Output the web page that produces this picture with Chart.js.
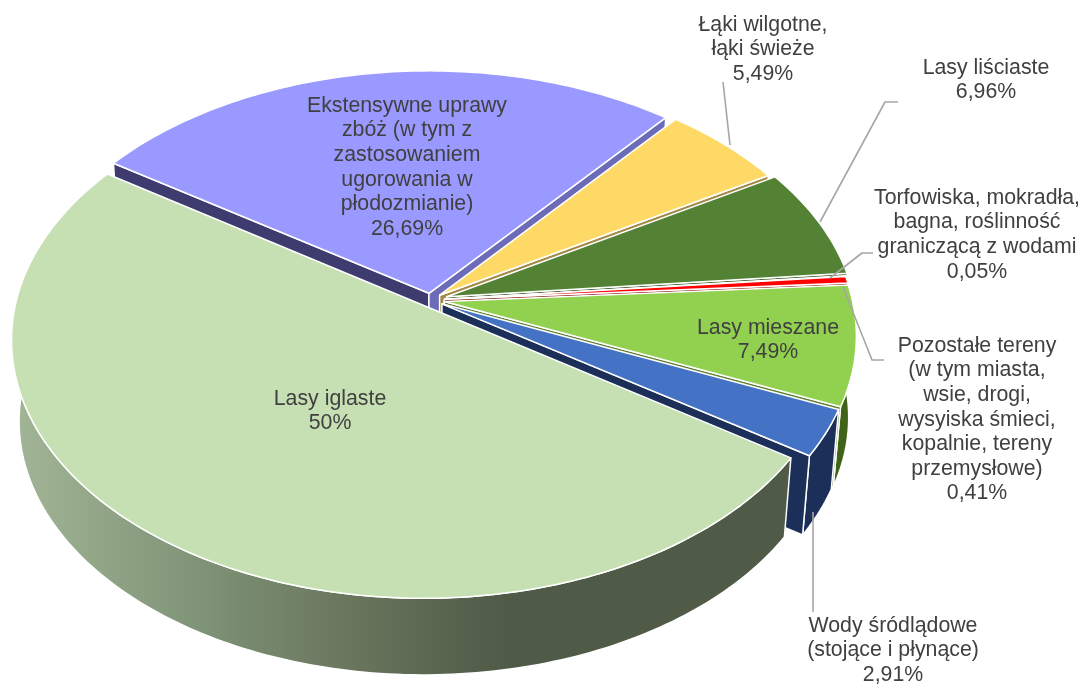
<!DOCTYPE html>
<html lang="pl">
<head>
<meta charset="utf-8">
<style>
  html, body { margin: 0; padding: 0; background: #fff; }
  #wrap { width: 1083px; height: 684px; }
</style>
</head>
<body>
<div id="wrap"><canvas id="grafica" width="1083" height="684"></canvas></div>
<script src="https://cdn.jsdelivr.net/npm/chart.js@4/dist/chart.umd.min.js"></script>
<script>
const etykiety = [
    ['Lasy iglaste'],
    ['Ekstensywne uprawy', 'zbóż (w tym z', 'zastosowaniem', 'ugorowania w', 'płodozmianie)'],
    ['Łąki wilgotne,', 'łąki świeże'],
    ['Lasy liściaste'],
    ['Torfowiska, mokradła,', 'bagna, roślinność', 'graniczącą z wodami'],
    ['Pozostałe tereny', '(w tym miasta,', 'wsie, drogi,', 'wysyiska śmieci,', 'kopalnie, tereny', 'przemysłowe)'],
    ['Lasy mieszane'],
    ['Wody śródlądowe', '(stojące i płynące)']
];
const wartosci = [50, 26.69, 5.49, 6.96, 0.05, 0.41, 7.49, 2.91];

// style
const kolory = ['#c6e0b4', '#9999ff', '#ffd966', '#548235', '#a5a5a5', '#ff0000', '#92d050', '#4472c4'];
const scianyPoczatek = ['#4f5a47', '#3e3b6e', '#a38b47', '#3c5d26', '#666666', '#800000', '#5f7f33', '#1b2f58'];
const scianyKoniec = ['#4f5a47', '#6b6bb8', '#a38b47', '#3c5d26', '#666666', '#800000', '#5f7f33', '#1b2f58'];
const scianyBok = ['#4f5a47', '#5c5c99', '#997f3d', '#2f4a1f', '#555555', '#800000', '#3f6318', '#1b2f58'];
const przesuniecia = [11, 11, 12, 17, 14, 14, 14, 13];
const kolejnosc = [1, 2, 3, 4, 5, 6, 7, 0]; // od tylu do przodu

// pozycje opisow: srodek x, y pierwszej linii
const opisyXY = [[330, 399], [407, 106], [763, 25], [986, 68], [977, 198], [977, 346], [768, 328], [893, 626]];
const linieOpisow = [
    [[723, 82], [730, 145]],
    [[898, 102], [885, 102], [820, 222]],
    [[873, 253], [862, 253], [830, 278]],
    [[884, 360], [872, 360], [843, 287]],
    [[813, 512], [813, 612]]
];

const TILT = 0.62, PERSP = 0.13, GLEBOKOSC = 82, ZBIEG = 0.018;

function rzut(cx, cy, R, x, y, z) {
    const w = 1 - PERSP * y / R;
    const sx = x / w, sy = TILT * y / w;
    const s = 1 - ZBIEG * z;
    return [cx + sx * s, cy + sy * s + GLEBOKOSC * z];
}

function sciezka(ctx, pts, fill, stroke) {
    ctx.beginPath();
    pts.forEach((p, i) => i ? ctx.lineTo(p[0], p[1]) : ctx.moveTo(p[0], p[1]));
    ctx.closePath();
    ctx.fillStyle = fill;
    ctx.fill();
    if (stroke) {
        ctx.strokeStyle = stroke;
        ctx.lineWidth = 1.5;
        ctx.lineJoin = 'round';
        ctx.stroke();
    }
}

const pie3d = {
    id: 'pie3d',
    beforeDatasetsDraw(chart) {
        const ctx = chart.ctx;
        const arcs = chart.getDatasetMeta(0).data;
        const grad = ctx.createLinearGradient(12, 0, 510, 0);
        grad.addColorStop(0, '#a2b597');
        grad.addColorStop(0.4, '#7d9174');
        grad.addColorStop(0.72, '#66725a');
        grad.addColorStop(1, '#4f5a47');

        kolejnosc.forEach(i => {
            const a = arcs[i];
            const off = a.options.offset;
            const mid = (a.startAngle + a.endAngle) / 2;
            const ox = Math.cos(mid) * off, oy = Math.sin(mid) * off;
            const R = a.outerRadius;
            const P = (x, y, z) => rzut(a.x, a.y, R, x, y, z);
            const n = Math.max(2, Math.ceil((a.endAngle - a.startAngle) * 180 / Math.PI));
            const luk = [];
            for (let k = 0; k <= n; k++) {
                const t = a.startAngle + (a.endAngle - a.startAngle) * k / n;
                luk.push([ox + R * Math.cos(t), oy + R * Math.sin(t)]);
            }
            const first = luk[0], last = luk[n];
            const bok = luk.map(p => P(p[0], p[1], 0)).concat(luk.slice().reverse().map(p => P(p[0], p[1], 1)));
            sciezka(ctx, bok, i === 0 ? grad : scianyBok[i], '#fff');
            // sciany promieniowe tylko gdy zwrocone do widza
            if (Math.cos(a.startAngle) < 0) {
                sciezka(ctx, [P(ox, oy, 0), P(first[0], first[1], 0), P(first[0], first[1], 1), P(ox, oy, 1)], scianyPoczatek[i], '#fff');
            }
            if (Math.cos(a.endAngle) > 0) {
                sciezka(ctx, [P(ox, oy, 0), P(last[0], last[1], 0), P(last[0], last[1], 1), P(ox, oy, 1)], scianyKoniec[i], '#fff');
            }
            sciezka(ctx, [P(ox, oy, 0)].concat(luk.map(p => P(p[0], p[1], 0))), a.options.backgroundColor, '#fff');
        });
        return false;
    },
    afterDraw(chart) {
        const ctx = chart.ctx;
        ctx.save();
        ctx.strokeStyle = '#a6a6a6';
        ctx.lineWidth = 1.6;
        linieOpisow.forEach(l => {
            ctx.beginPath();
            l.forEach((p, i) => i ? ctx.lineTo(p[0], p[1]) : ctx.moveTo(p[0], p[1]));
            ctx.stroke();
        });
        ctx.fillStyle = '#404040';
        ctx.font = '21.3px "Liberation Sans", Arial, sans-serif';
        ctx.textAlign = 'center';
        ctx.textBaseline = 'middle';
        etykiety.forEach((linie, i) => {
            const tekst = linie.concat(String(wartosci[i]).replace('.', ',') + '%');
            tekst.forEach((t, k) => ctx.fillText(t, opisyXY[i][0], opisyXY[i][1] + k * 24.6));
        });
        ctx.restore();
    }
};

new Chart(document.getElementById('grafica').getContext('2d'), {
    type: 'pie',
    data: {
        labels: etykiety.map(l => l.join(' ')),
        datasets: [{
            data: wartosci,
            backgroundColor: kolory,
            offset: przesuniecia,
            borderColor: '#fff',
            borderWidth: 1.5
        }]
    },
    options: {
        responsive: false,
        animation: false,
        rotation: 123.7,
        radius: 408,
        layout: { padding: { right: 222, bottom: 84 } },
        plugins: { legend: { display: false }, tooltip: { enabled: false } }
    },
    plugins: [pie3d]
});
</script>
</body>
</html>
